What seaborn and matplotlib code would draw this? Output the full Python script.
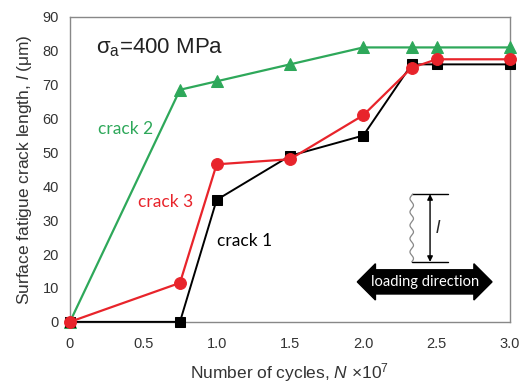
import numpy as np
import pandas as pd
import matplotlib
matplotlib.use("Agg")
import matplotlib.pyplot as plt
import seaborn as sns
from matplotlib.ticker import MultipleLocator, FixedLocator

cycles = [0, 0.75, 1.0, 1.5, 2.0, 2.33, 2.5, 3.0]
crack1 = [0, 0, 36, 49, 55, 76, 76, 76]
crack2 = [0, 68.5, 71, 76, 81, 81, 81, 81]
crack3 = [0, 11.5, 46.5, 48, 61, 75, 77.5, 77.5]
x_ticks = [0, 0.5, 1.0, 1.5, 2.0, 2.5, 3.0]
x_tick_labels = ["0", "0.5", "1.0", "1.5", "2.0", "2.5", "3.0"]
y_ticks = [0, 10, 20, 30, 40, 50, 60, 70, 80, 90]

sns.set_style("white")
plt.rcParams["font.family"] = ["Liberation Sans", "DejaVu Sans"]
plt.rcParams["mathtext.fontset"] = "custom"
plt.rcParams["mathtext.rm"] = "Liberation Sans"
plt.rcParams["mathtext.it"] = "Liberation Sans:italic"

fig = plt.figure(figsize=(5.22, 3.85), dpi=100)
ax = fig.add_axes([0.134, 0.164, 0.843, 0.792])

green = "#2ea85a"
red = "#e8242b"

df1 = pd.DataFrame({"x": cycles, "y": crack1})
df2 = pd.DataFrame({"x": cycles, "y": crack2})
df3 = pd.DataFrame({"x": cycles, "y": crack3})

sns.lineplot(data=df2, x="x", y="y", ax=ax, color=green, lw=1.6, marker="^",
             markersize=8, markeredgecolor=green, zorder=3, clip_on=False)
sns.lineplot(data=df1, x="x", y="y", ax=ax, color="black", lw=1.4, marker="s",
             markersize=6.5, markeredgecolor="black", zorder=4, clip_on=False)
sns.lineplot(data=df3, x="x", y="y", ax=ax, color=red, lw=1.6, marker="o",
             markersize=8.5, markeredgecolor=red, zorder=5, clip_on=False)

ax.set_xlim(0, 3.0)
ax.set_ylim(0, 90)
ax.xaxis.set_major_locator(FixedLocator(x_ticks))
ax.set_xticklabels(x_tick_labels)
ax.yaxis.set_major_locator(FixedLocator(y_ticks))
ax.xaxis.set_minor_locator(MultipleLocator(0.1))
ax.yaxis.set_minor_locator(MultipleLocator(2))
ax.tick_params(axis="both", which="both", direction="in", colors="#888888",
               labelcolor="#333333", labelsize=10.5)
ax.tick_params(axis="x", which="major", length=5, width=0.8, pad=11)
ax.tick_params(axis="y", which="major", length=5, width=0.8, pad=8)
ax.tick_params(axis="both", which="minor", length=4, width=0.8)
for s in ax.spines.values():
    s.set_color("#888888")
    s.set_linewidth(1.0)

ax.set_xlabel(r"Number of cycles, $N$ $\times$$\mathit{10}^{\mathit{7}}$", fontsize=12.5,
              color="#333333", labelpad=7)
ax.set_ylabel(r"Surface fatigue crack length, $l$ ($\mathrm{\mu}$m)", fontsize=12.5,
              color="#333333", labelpad=6)

ax.text(0.18, 81, r"σ$_\mathrm{a}$=400 MPa", fontsize=16, color="#222222",
        va="center", ha="left")

ax.text(0.38, 57, "crack 2", color=green, fontsize=12.5, ha="center", va="center",
        family=["Lato", "DejaVu Sans"])
ax.text(0.65, 35.5, "crack 3", color=red, fontsize=12.5, ha="center", va="center",
        family=["Lato", "DejaVu Sans"])
ax.text(1.19, 24, "crack 1", color="black", fontsize=12.5, ha="center", va="center",
        family=["Lato", "DejaVu Sans"])

# schematic crack
ax.plot([2.33, 2.58], [37.7, 37.7], color="black", lw=1.0)
ax.plot([2.33, 2.58], [17.7, 17.7], color="black", lw=1.0)
yy = np.linspace(17.7, 37.7, 200)
ax.plot(2.33 + 0.012 * np.sin((yy - 17.7) * 1.6), yy, color="#888888", lw=0.9)
ax.annotate("", xy=(2.455, 37.7), xytext=(2.455, 17.7),
            arrowprops=dict(arrowstyle="<|-|>", color="black", lw=1.0,
                            mutation_scale=8, shrinkA=0, shrinkB=0))
ax.text(2.51, 27.5, "l", fontsize=13, style="italic", ha="center", va="center")

ax.text(2.42, 11.8, "loading direction", color="white", fontsize=10.5,
        ha="center", va="center", family=["Lato", "DejaVu Sans"],
        bbox=dict(boxstyle="darrow,pad=0.35", fc="black", ec="black"))

fig.savefig("out.png", dpi=100)
